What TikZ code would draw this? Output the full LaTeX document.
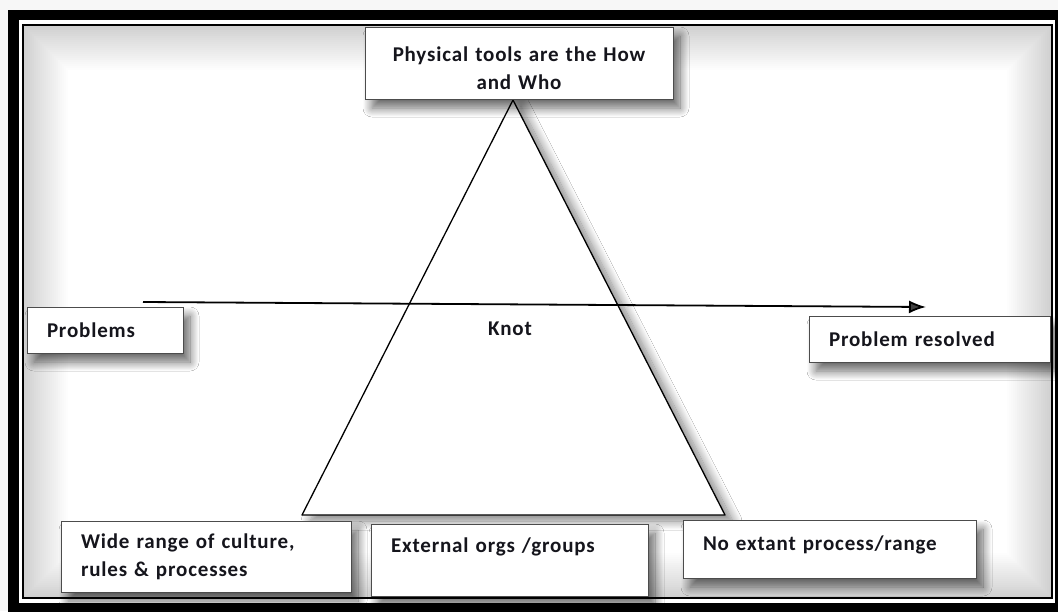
\documentclass[tikz,border=0pt]{standalone}
\usepackage{fontspec}
\setmainfont{Carlito}[LetterSpace=4]
\usetikzlibrary{arrows.meta,shadows.blur}
\definecolor{inkc}{HTML}{15151C}
\tikzset{
  box/.style={draw=gray!60!black, line width=0.9pt, fill=white, rectangle,
    align=left, inner ysep=0pt, inner xsep=20pt,
    font=\bfseries\fontsize{21}{28}\selectfont, text=inkc,
    blur shadow={shadow xshift=7pt, shadow yshift=-9pt, shadow blur steps=14, shadow blur radius=9pt, shadow blur extra rounding=0pt, shadow opacity=60}},
  lbl/.style={font=\bfseries\fontsize{21}{28}\selectfont, text=inkc},
}
\begin{document}
\begin{tikzpicture}[x=1pt,y=-1pt]
\useasboundingbox (0,0) rectangle (1058,611);
% page background
\fill[gray!6] (0,0) rectangle (1058,611);
% frame
\fill[black] (8,10) rectangle (1070,625);
\fill[white] (19,20) rectangle (1055,603);
\draw[black, line width=2pt] (23,25) rectangle (1052,598);
% inner glow
\begin{scope}
\clip (24,26) rectangle (1051,597);
\foreach \i in {0,...,21}{
  \draw[black, opacity={0.18*(1-\i/22)}, line width=2.1pt] (25+2*\i,27+2*\i) rectangle (1050-2*\i,596-2*\i);
}
\end{scope}
% triangle
\coordinate (apex) at (513,100);
\coordinate (bl) at (302,515);
\coordinate (br) at (725,515);
\filldraw[fill=white, draw=black, line width=1.3pt, line join=round,
  blur shadow={shadow xshift=8pt, shadow yshift=-6pt, shadow blur steps=14, shadow blur radius=9pt, shadow opacity=50}]
  (apex) -- (bl) -- (br) -- cycle;
% boxes
\node[box, align=center, minimum width=308pt, minimum height=72pt, text width=268pt] (top) at (519,63)
  {\rule{0pt}{26pt}Physical tools are the How\\and Who};
\node[box, minimum width=156pt, minimum height=46pt, text width=116pt] (prob) at (105,330) {Problems};
\node[box, minimum width=241pt, minimum height=46pt, text width=201pt] (res) at (929.5,339) {Problem resolved};
\node[box, minimum width=290pt, minimum height=71pt, text width=250pt] (wide) at (206,556.5)
  {Wide range of culture,\\rules \& processes};
\node[box, minimum width=277pt, minimum height=72pt, text width=237pt] (ext) at (509.5,560)
  {External orgs /groups\rule[-30pt]{0pt}{0pt}};
\node[box, minimum width=293pt, minimum height=58pt, text width=253pt] (none) at (829.5,549)
  {No extant process/range\rule[-12pt]{0pt}{0pt}};
% knot label
\node[lbl] (knot) at (510,329) {Knot};
% arrow
\coordinate (as) at (143,302);
\coordinate (ae) at (926,307);
\draw[line width=1.8pt, -{Latex[length=17pt,width=13pt]}] (as) -- (ae);
\end{tikzpicture}
\end{document}
